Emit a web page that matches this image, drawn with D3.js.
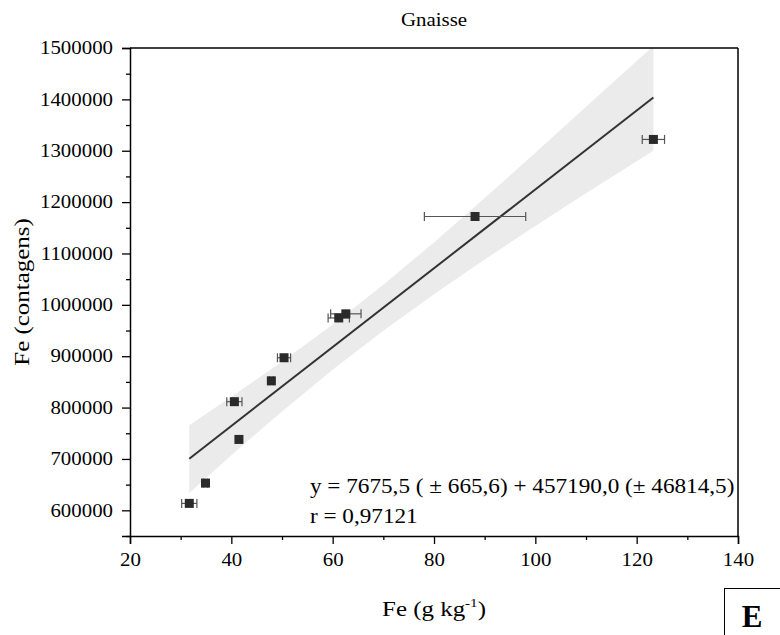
<!DOCTYPE html>
<html>
<head>
<meta charset="utf-8">
<script src="https://cdn.jsdelivr.net/npm/d3@7"></script>
<style>
body { margin: 0; background: #fff; }
</style>
</head>
<body>
<div id="chart"></div>
<script>
// data
const feX   = [31.7, 34.9, 41.5, 40.6, 47.9, 50.4, 61.2, 62.6, 88.1, 123.3];
const feY   = [613500, 653000, 738000, 811500, 852000, 897000, 974500, 982500, 1172000, 1322000];
const feErr = [1.5, 0.4, 0.4, 1.5, 0.4, 1.3, 2.1, 3.0, 10.0, 2.2];

// fit (from the equation on the chart)
const slope = 7675.5, intercept = 457190.0;

// confidence band edges
const bandX  = [31.7, 40, 50, 60, 70, 80, 90, 100, 110, 123.3];
const bandLo = [633700, 707300, 792600, 873800, 949800, 1020800, 1088200, 1153400, 1217400, 1300000];
const bandHi = [765700, 821100, 889400, 961600, 1039200, 1121600, 1207800, 1296000, 1385600, 1504000];

const xTicks = [20, 40, 60, 80, 100, 120, 140];
const xMinor = [30, 50, 70, 90, 110, 130];
const yTicks = [600000, 700000, 800000, 900000, 1000000, 1100000, 1200000, 1300000, 1400000, 1500000];
const yMinor = [550000, 650000, 750000, 850000, 950000, 1050000, 1150000, 1250000, 1350000, 1450000];

const FONT = "'Liberation Serif', 'Times New Roman', Times, serif";
const K = 1.16; // the original type is a little wider than it is tall
const W = 780, H = 635;
const margin = {left: 130, right: 42, top: 48, bottom: 99};
const width = W - margin.left - margin.right;
const height = H - margin.top - margin.bottom;

const svg = d3.select("#chart").append("svg")
    .attr("width", W)
    .attr("height", H);

svg.append("defs").append("clipPath").attr("id", "clip")
    .append("rect").attr("width", width).attr("height", height);

const g = svg.append("g")
    .attr("transform", `translate(${margin.left},${margin.top})`);

const x = d3.scaleLinear().domain([20, 140]).range([0, width]);
const y = d3.scaleLinear().domain([550000, 1500000]).range([height, 0]);

const plot = g.append("g").attr("clip-path", "url(#clip)");

// band
const area = d3.area()
    .x((d, i) => x(bandX[i]))
    .y0((d, i) => y(bandLo[i]))
    .y1((d, i) => y(bandHi[i]));
plot.append("path")
    .attr("d", area(bandX))
    .attr("fill", "#ebebeb");

// fit line
const xmin = d3.min(feX), xmax = d3.max(feX);
plot.append("line")
    .attr("x1", x(xmin)).attr("y1", y(slope * xmin + intercept))
    .attr("x2", x(xmax)).attr("y2", y(slope * xmax + intercept))
    .attr("stroke", "#333")
    .attr("stroke-width", 2);

// error bars
const pts = feX.map((v, i) => ({x: v, y: feY[i], e: feErr[i]}));
const eb = plot.selectAll(".eb").data(pts).enter().append("g").attr("class", "eb");
eb.append("line")
    .attr("x1", d => x(d.x - d.e)).attr("x2", d => x(d.x + d.e))
    .attr("y1", d => y(d.y)).attr("y2", d => y(d.y))
    .attr("stroke", "#555").attr("stroke-width", 1.2);
eb.append("line")
    .attr("x1", d => x(d.x - d.e)).attr("x2", d => x(d.x - d.e))
    .attr("y1", d => y(d.y) - 4.5).attr("y2", d => y(d.y) + 4.5)
    .attr("stroke", "#555").attr("stroke-width", 1.2);
eb.append("line")
    .attr("x1", d => x(d.x + d.e)).attr("x2", d => x(d.x + d.e))
    .attr("y1", d => y(d.y) - 4.5).attr("y2", d => y(d.y) + 4.5)
    .attr("stroke", "#555").attr("stroke-width", 1.2);

// squares
const s = 9;
plot.selectAll(".pt").data(pts).enter().append("rect")
    .attr("class", "pt")
    .attr("x", d => x(d.x) - s / 2)
    .attr("y", d => y(d.y) - s / 2)
    .attr("width", s).attr("height", s)
    .attr("fill", "#2a2a2a");

// frame top/right
g.append("line").attr("x1", 0).attr("x2", width).attr("y1", 0).attr("y2", 0)
    .attr("stroke", "#000").attr("stroke-width", 1.5);
g.append("line").attr("x1", width).attr("x2", width).attr("y1", 0).attr("y2", height)
    .attr("stroke", "#000").attr("stroke-width", 1.5);

// axes
g.append("g")
    .attr("transform", `translate(0,${height})`)
    .call(d3.axisBottom(x).tickValues(xTicks).tickFormat(d3.format("d")).tickSize(8).tickPadding(9));
g.append("g")
    .attr("transform", `translate(0,${height})`)
    .call(d3.axisBottom(x).tickValues(xMinor).tickFormat("").tickSize(4))
    .select(".domain").remove();

g.append("g")
    .call(d3.axisLeft(y).tickValues(yTicks).tickFormat(d3.format("d")).tickSize(8).tickPadding(9));
g.append("g")
    .call(d3.axisLeft(y).tickValues(yMinor).tickFormat("").tickSize(4))
    .select(".domain").remove();

g.selectAll(".domain").attr("stroke", "#000").attr("stroke-width", 1.5);
g.selectAll(".tick line").attr("stroke", "#000").attr("stroke-width", 1.3);
g.selectAll(".tick text")
    .attr("font-size", 18)
    .attr("fill", "#000");

// equation
g.append("text")
    .attr("x", x(20) + 180).attr("y", y(600000) - 17)
    .attr("font-size", 20)
    .text("y = 7675,5 ( \u00b1 665,6) + 457190,0 (\u00b1 46814,5)");
g.append("text")
    .attr("x", x(20) + 180).attr("y", y(600000) + 13)
    .attr("font-size", 20)
    .text("r = 0,97121");

// title and labels
svg.append("text")
    .attr("x", margin.left + width / 2).attr("y", 26)
    .attr("text-anchor", "middle")
    .attr("font-size", 18)
    .text("Gnaisse");

svg.append("text")
    .attr("transform", `translate(29,${margin.top + height / 2}) rotate(-90)`)
    .attr("text-anchor", "middle")
    .attr("font-size", 21.5)
    .text("Fe (contagens)");

const xl = svg.append("text")
    .attr("x", margin.left + width / 2).attr("y", 616)
    .attr("text-anchor", "middle")
    .attr("font-size", 21.5);
xl.append("tspan").text("Fe (g kg");
xl.append("tspan").attr("dy", -9).attr("font-size", 13).text("-1");
xl.append("tspan").attr("dy", 9).text(")");

// every label in the serif face, widened a little
svg.selectAll("text").style("font-family", FONT).each(function () {
    const t = d3.select(this);
    const xv = +t.attr("x") || 0;
    t.attr("x", xv / K);
    t.attr("transform", (t.attr("transform") || "") + ` scale(${K},1)`);
});
svg.selectAll("g").attr("font-family", null);

// panel letter box
svg.append("rect")
    .attr("x", 724.5).attr("y", 588.5)
    .attr("width", 60).attr("height", 60)
    .attr("fill", "none").attr("stroke", "#000").attr("stroke-width", 1);
svg.append("text")
    .attr("x", 752).attr("y", 627)
    .attr("text-anchor", "middle")
    .attr("font-size", 31)
    .attr("font-weight", "bold")
    .style("font-family", FONT)
    .text("E");
</script>
</body>
</html>
